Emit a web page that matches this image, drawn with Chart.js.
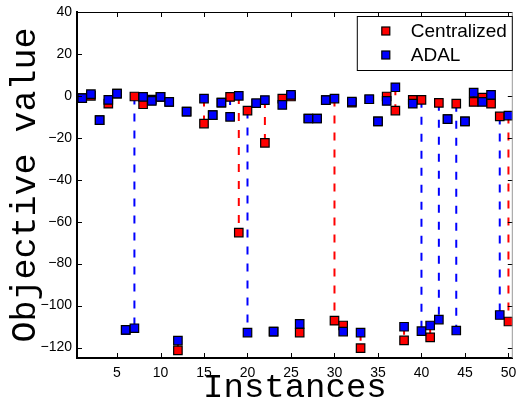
<!DOCTYPE html>
<html>
<head>
<meta charset="utf-8">
<script src="https://cdn.jsdelivr.net/npm/chart.js@4.4.1/dist/chart.umd.min.js"></script>
<style>
  html, body { margin: 0; padding: 0; background: #fff; }
</style>
</head>
<body>
<canvas id="chart" width="520" height="405"></canvas>
<script>
// instance numbers 1..50 (14 has no visible marker)
const instances = [1, 2, 3, 4, 5, 6, 7, 8, 9, 10, 11, 12, 13, 14, 15, 16, 17, 18, 19, 20,
  21, 22, 23, 24, 25, 26, 27, 28, 29, 30, 31, 32, 33, 34, 35, 36, 37, 38, 39, 40,
  41, 42, 43, 44, 45, 46, 47, 48, 49, 50];

const centralized = [-1.1, 0, -11.6, -3.7, 1.1, -111.6, -0.3, -4, -1.8, -0.5,
  -2.9, -121.4, -7.5, null, -13.2, -9.2, -3.2, -0.5, -65.2, -7,
  -3.5, -22.4, -112.4, -1.3, -0.3, -112.9, -10.8, -10.8, -2, -107.2,
  -109.5, -3.2, -120.3, -1.6, -12.2, -0.3, -7, -116.6, -1.9, -1.9,
  -115.2, -3.3, -11.1, -3.7, -12.2, -2.9, -0.8, -3.7, -9.8, -107.6];

const adal = [-1.1, 0.8, -11.6, -1.9, 1.1, -111.6, -110.8, -0.5, -2.4, -0.5,
  -2.9, -116.7, -7.5, null, -1.3, -9.2, -3.2, -10, 0, -112.9,
  -3.5, -2, -112.4, -4.3, 0.5, -108.7, -10.8, -10.8, -2, -1.3,
  -112.4, -2.7, -112.9, -1.6, -12.2, -2.4, 4.1, -110.1, -3.7, -112.2,
  -109.5, -106.7, -11.1, -111.9, -12.2, 1.6, -2.9, 0.5, -104.5, -9.4];

const xTicks = [5, 10, 15, 20, 25, 30, 35, 40, 45, 50];
const yTicks = [-120, -100, -80, -60, -40, -20, 0, 20, 40];

const RED = "#ff0000";
const BLUE = "#0000ff";

const toPoints = (vals) => instances
  .map((x, i) => ({ x: x, y: vals[i] }))
  .filter(p => p.y !== null);

// vertical dashed links between the two results, coloured by the lower one
const redLinks = [];
const blueLinks = [];
instances.forEach((x, i) => {
  const c = centralized[i], a = adal[i];
  if (c === null || a === null || c === a) return;
  const target = c < a ? redLinks : blueLinks;
  target.push({ x: x, y: Math.max(c, a) }, { x: x, y: Math.min(c, a) }, { x: x, y: null });
});

const minusFmt = (v) => v < 0 ? "\u2212" + Math.abs(v) : String(v);

const frame = {
  id: "frame",
  afterDatasetsDraw(chart) {
    const { ctx, chartArea: area, scales } = chart;
    const len = 5;
    ctx.save();
    ctx.strokeStyle = "#000";
    ctx.lineWidth = 1;
    ctx.beginPath();
    scales.x.ticks.forEach(t => {
      const px = Math.round(scales.x.getPixelForValue(t.value)) + 0.5;
      ctx.moveTo(px, area.bottom); ctx.lineTo(px, area.bottom - len);
      ctx.moveTo(px, area.top); ctx.lineTo(px, area.top + len);
    });
    scales.y.ticks.forEach(t => {
      const py = Math.round(scales.y.getPixelForValue(t.value)) + 0.5;
      ctx.moveTo(area.left, py); ctx.lineTo(area.left + len, py);
      ctx.moveTo(area.right, py); ctx.lineTo(area.right - len, py);
    });
    ctx.stroke();
    ctx.beginPath();
    ctx.moveTo(area.left, area.top + 0.5);
    ctx.lineTo(area.right, area.top + 0.5);
    ctx.stroke();
    ctx.strokeStyle = "#999";
    ctx.beginPath();
    ctx.moveTo(area.right - 0.5, area.top);
    ctx.lineTo(area.right - 0.5, area.bottom);
    ctx.stroke();
    ctx.restore();
  }
};

const legendBox = {
  id: "legendBox",
  afterDraw(chart) {
    const { ctx, chartArea: area } = chart;
    const entries = chart.data.datasets
      .filter(d => d.legendRank)
      .sort((a, b) => a.legendRank - b.legendRank);
    const w = 156, h = 55;
    const left = area.right - w, top = area.top + 4;
    ctx.save();
    ctx.fillStyle = "#fff";
    ctx.fillRect(left, top, w, h);
    ctx.strokeStyle = "#000";
    ctx.lineWidth = 1;
    ctx.strokeRect(left + 0.5, top + 0.5, w - 1, h - 1);
    ctx.font = "19px 'Liberation Sans', Arial, sans-serif";
    ctx.textBaseline = "middle";
    entries.forEach((d, i) => {
      const cy = top + 15 + i * 24;
      const s = 8;
      ctx.fillStyle = d.backgroundColor;
      ctx.fillRect(left + 29 - s / 2, cy - s / 2, s, s);
      ctx.strokeStyle = "#000";
      ctx.lineWidth = 1.2;
      ctx.strokeRect(left + 29 - s / 2, cy - s / 2, s, s);
      ctx.fillStyle = "#000";
      ctx.fillText(d.label, left + 54, cy + 1);
    });
    ctx.restore();
  }
};

new Chart(document.getElementById("chart").getContext("2d"), {
  type: "scatter",
  data: {
    datasets: [
      {
        label: "ADAL",
        legendRank: 2,
        data: toPoints(adal),
        pointStyle: "rect",
        pointRadius: 6,
        backgroundColor: BLUE,
        borderColor: "#000",
        borderWidth: 1.2,
        order: 1
      },
      {
        label: "Centralized",
        legendRank: 1,
        data: toPoints(centralized),
        pointStyle: "rect",
        pointRadius: 6,
        backgroundColor: RED,
        borderColor: "#000",
        borderWidth: 1.2,
        order: 2
      },
      {
        label: "links-red",
        data: redLinks,
        showLine: true,
        spanGaps: false,
        pointRadius: 0,
        borderColor: RED,
        borderWidth: 2,
        borderDash: [8, 9],
        order: 3
      },
      {
        label: "links-blue",
        data: blueLinks,
        showLine: true,
        spanGaps: false,
        pointRadius: 0,
        borderColor: BLUE,
        borderWidth: 2,
        borderDash: [8, 9],
        order: 3
      }
    ]
  },
  options: {
    responsive: false,
    animation: false,
    devicePixelRatio: 1,
    layout: { padding: { top: 12, right: 0, left: 0, bottom: 0 } },
    plugins: {
      legend: { display: false },
      tooltip: { enabled: false }
    },
    scales: {
      x: {
        type: "linear",
        min: 0.4,
        max: 50.5,
        afterBuildTicks: (s) => { s.ticks = xTicks.map(v => ({ value: v })); },
        afterFit: (s) => { s.height = 47; s.paddingLeft = 0; s.paddingRight = 0; },
        grid: { display: false, drawTicks: false },
        border: { display: true, color: "#000", width: 2 },
        ticks: {
          color: "#000",
          padding: 7,
          maxRotation: 0,
          font: { family: "'Liberation Sans', Arial, sans-serif", size: 14 }
        },
        title: {
          display: true,
          text: "Instances",
          color: "#000",
          padding: { top: 0, bottom: 0 },
          font: { family: "'Liberation Mono', 'Courier New', monospace", size: 34, lineHeight: 1 }
        }
      },
      y: {
        min: -125,
        max: 40,
        afterBuildTicks: (s) => { s.ticks = yTicks.map(v => ({ value: v })); },
        afterFit: (s) => { s.width = 77; s.paddingTop = 0; s.paddingBottom = 0; },
        grid: { display: false, drawTicks: false },
        border: { display: true, color: "#000", width: 2 },
        ticks: {
          color: "#000",
          padding: 5,
          callback: minusFmt,
          font: { family: "'Liberation Sans', Arial, sans-serif", size: 14 }
        },
        title: {
          display: true,
          text: "Objective value",
          color: "#000",
          padding: { top: 8, bottom: 0 },
          font: { family: "'Liberation Mono', 'Courier New', monospace", size: 35, lineHeight: 1 }
        }
      }
    }
  },
  plugins: [frame, legendBox]
});
</script>
</body>
</html>
